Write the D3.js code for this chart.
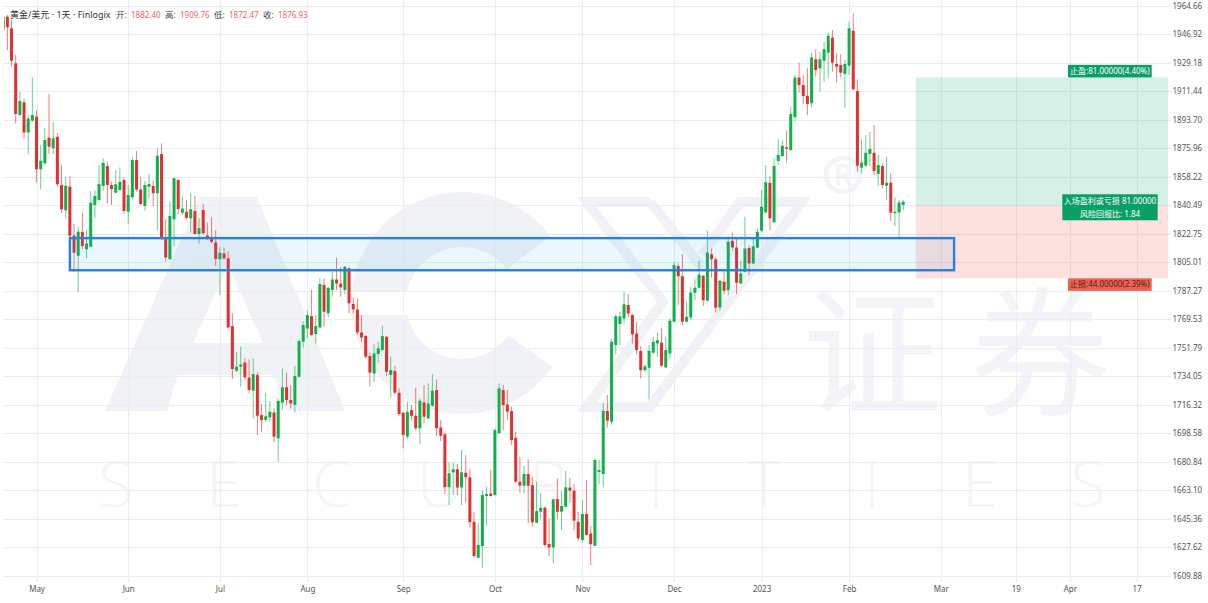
<!DOCTYPE html>
<html><head><meta charset="utf-8">
<script src="https://cdn.jsdelivr.net/npm/d3@7"></script>
<style>html,body{margin:0;padding:0;background:#fff}svg{display:block}text{font-family:"Noto Sans","Noto Sans CJK SC",sans-serif}</style>
</head><body><svg id="c" width="1208" height="603"></svg>
<script>
const opens=[1949.5,1957.8,1950.6,1928.8,1896.6,1904.5,1885.8,1893.1,1895.6,1862.8,
1866.5,1882.4,1875.9,1883.1,1853.0,1837.3,1852.0,1821.7,1809.0,1823.8,
1813.0,1814.7,1840.6,1843.7,1852.4,1864.9,1853.0,1848.3,1849.9,1856.2,
1836.4,1845.4,1868.6,1850.3,1840.0,1852.0,1852.4,1847.9,1872.3,1820.5,
1806.8,1831.7,1856.2,1835.8,1836.4,1832.3,1836.9,1822.5,1837.5,1821.7,
1819.4,1817.3,1806.8,1810.5,1807.4,1765.3,1737.5,1740.0,1742.6,1733.3,
1725.0,1734.8,1709.9,1706.8,1708.4,1711.5,1695.3,1717.5,1727.1,1719.2,
1716.1,1733.7,1755.5,1763.8,1771.5,1760.3,1764.4,1790.8,1773.2,1787.7,
1794.3,1791.8,1787.7,1801.2,1779.0,1775.6,1761.3,1759.0,1746.6,1735.8,
1747.8,1750.3,1758.6,1734.8,1737.3,1723.8,1711.3,1696.4,1713.0,1709.4,
1701.6,1717.7,1707.8,1715.7,1725.4,1702.2,1697.9,1664.9,1674.2,1676.1,
1664.7,1674.0,1671.1,1643.5,1621.1,1628.3,1659.5,1661.1,1660.1,1698.5,
1725.5,1716.5,1712.4,1695.8,1668.4,1665.9,1673.2,1666.3,1642.9,1649.7,
1652.2,1629.6,1627.5,1657.6,1649.7,1652.8,1664.7,1662.8,1643.5,1632.1,
1648.3,1636.2,1628.5,1674.4,1673.2,1712.4,1705.7,1753.4,1766.5,1770.0,
1778.3,1772.1,1760.6,1749.7,1737.8,1739.3,1748.6,1754.4,1755.0,1739.5,
1748.2,1767.9,1802.6,1796.3,1767.9,1770.6,1786.0,1789.1,1796.5,1781.0,
1810.0,1806.9,1776.8,1792.8,1787.6,1818.3,1814.2,1791.8,1799.0,1813.8,
1804.2,1814.0,1824.6,1836.0,1854.5,1829.8,1868.0,1871.1,1876.5,1874.8,
1895.2,1919.9,1915.3,1908.6,1903.9,1931.3,1925.7,1930.4,1935.4,1944.8,
1928.4,1927.7,1922.1,1927.3,1949.1,1911.6,1863.8,1865.1,1872.3,1873.2,
1859.9,1864.9,1852.6,1854.5,1835.8,1836.0,1840.6];
const highs=[1958.2,1958.9,1955.8,1934.0,1911.1,1907.0,1896.6,1920.1,1899.7,1877.9,
1888.3,1909.76,1892.5,1885.6,1865.5,1858.2,1858.8,1828.8,1827.1,1835.8,
1825.0,1849.3,1849.9,1865.5,1869.6,1867.6,1855.1,1862.4,1864.0,1857.6,
1853.0,1870.3,1874.2,1858.2,1855.7,1859.9,1855.7,1875.9,1879.0,1831.7,
1842.7,1857.6,1856.8,1846.2,1843.7,1847.9,1846.2,1832.3,1841.2,1829.6,
1832.9,1825.0,1814.2,1814.2,1811.9,1773.2,1749.3,1752.4,1745.1,1744.5,
1745.1,1736.4,1716.7,1723.8,1718.6,1714.0,1720.2,1738.9,1736.4,1728.5,
1740.4,1757.0,1768.0,1775.2,1787.7,1772.1,1794.9,1794.9,1789.7,1799.1,
1807.8,1802.2,1802.6,1801.8,1783.1,1782.5,1772.1,1759.7,1748.7,1753.9,
1755.5,1765.5,1759.0,1746.2,1740.4,1726.5,1711.9,1718.2,1716.1,1726.9,
1720.2,1728.5,1729.6,1735.4,1732.1,1706.8,1698.5,1680.4,1680.2,1679.4,
1688.1,1685.0,1676.1,1649.7,1642.5,1662.8,1665.3,1675.7,1701.6,1729.6,
1728.6,1725.5,1715.1,1699.5,1683.9,1678.1,1682.3,1671.5,1668.4,1661.1,
1653.2,1645.6,1658.0,1670.5,1662.8,1675.0,1670.9,1666.9,1649.7,1657.0,
1669.4,1640.8,1682.9,1682.3,1717.2,1722.3,1757.5,1772.7,1774.1,1786.6,
1785.1,1773.1,1767.9,1752.8,1741.6,1753.4,1758.6,1761.3,1763.8,1758.6,
1770.0,1805.3,1804.2,1810.0,1780.4,1789.7,1794.3,1805.9,1797.0,1824.6,
1813.6,1808.0,1794.3,1799.0,1821.2,1823.5,1819.8,1806.0,1833.3,1815.6,
1819.8,1826.0,1849.9,1865.5,1858.8,1869.6,1881.5,1881.0,1886.9,1901.8,
1921.5,1929.2,1921.5,1925.7,1935.4,1937.5,1936.0,1942.3,1948.1,1949.5,
1935.0,1934.4,1930.9,1954.7,1959.9,1918.8,1881.5,1884.2,1886.2,1890.4,
1872.1,1866.5,1870.7,1860.3,1845.4,1843.7,1843.7];
const lows=[1949.1,1937.1,1926.7,1891.4,1896.0,1881.5,1872.1,1892.5,1854.5,1850.3,
1866.1,1872.47,1872.3,1852.0,1835.8,1832.3,1820.5,1799.1,1786.6,1813.0,
1807.4,1814.2,1832.3,1843.3,1849.5,1841.6,1840.6,1847.9,1849.5,1835.4,
1828.6,1844.3,1848.9,1840.6,1837.1,1844.7,1840.0,1825.0,1818.8,1805.3,
1806.4,1815.1,1835.0,1834.4,1831.7,1823.4,1822.2,1816.7,1821.9,1818.8,
1816.7,1802.8,1784.6,1806.4,1763.8,1732.3,1736.8,1727.5,1731.7,1723.4,
1707.4,1697.4,1699.1,1705.7,1705.7,1692.9,1680.8,1713.0,1716.1,1714.0,
1711.5,1733.3,1752.0,1757.6,1759.0,1754.5,1763.8,1764.8,1770.7,1783.5,
1787.7,1783.5,1785.0,1773.2,1772.7,1759.7,1755.5,1745.1,1727.5,1730.6,
1742.4,1749.9,1734.1,1720.7,1722.3,1709.2,1689.1,1694.9,1706.8,1700.5,
1691.8,1704.7,1707.6,1715.0,1697.0,1693.7,1660.7,1653.9,1660.1,1660.1,
1653.9,1655.5,1640.0,1621.3,1620.7,1614.8,1641.4,1659.1,1659.5,1698.1,
1700.6,1706.8,1691.2,1667.4,1661.5,1661.1,1642.5,1640.4,1642.5,1645.6,
1627.9,1622.1,1617.6,1644.9,1638.3,1652.8,1655.3,1637.9,1631.7,1630.4,
1634.8,1616.5,1628.3,1666.9,1664.9,1702.2,1703.7,1747.6,1753.4,1766.9,
1770.6,1754.4,1747.8,1732.6,1736.8,1719.6,1748.2,1746.1,1739.9,1739.3,
1745.1,1767.7,1778.3,1765.8,1767.5,1768.9,1781.4,1788.7,1777.7,1780.8,
1795.5,1773.7,1774.8,1785.1,1784.5,1812.1,1785.1,1791.4,1798.6,1797.0,
1803.8,1813.6,1823.6,1835.4,1825.0,1829.2,1865.5,1870.7,1867.1,1874.4,
1892.5,1910.5,1903.5,1896.6,1901.4,1920.5,1911.1,1917.4,1919.4,1923.6,
1917.0,1920.1,1900.8,1921.5,1911.8,1861.3,1860.3,1864.5,1864.9,1859.3,
1852.6,1851.0,1843.7,1830.8,1827.5,1819.2,1837.5];
const closes=[1957.8,1951.2,1930.4,1897.2,1905.3,1885.8,1894.5,1896.6,1862.8,1868.2,
1881.0,1876.93,1882.1,1853.5,1837.9,1852.6,1821.5,1810.9,1824.0,1815.1,
1816.7,1842.0,1846.2,1853.7,1866.9,1853.0,1850.5,1853.5,1855.1,1836.9,
1846.8,1868.6,1850.3,1841.2,1853.0,1853.7,1847.9,1871.3,1819.8,1808.0,
1833.7,1857.2,1838.1,1838.5,1832.7,1837.9,1822.5,1826.1,1823.0,1819.6,
1817.8,1807.0,1810.9,1807.4,1764.4,1738.5,1740.0,1741.4,1733.3,1725.4,
1735.4,1709.4,1706.8,1709.2,1711.9,1696.4,1718.6,1727.1,1719.2,1717.1,
1734.1,1755.9,1765.9,1772.1,1759.7,1765.3,1791.4,1774.2,1789.1,1794.3,
1791.8,1789.3,1802.2,1779.4,1775.6,1761.3,1758.2,1746.2,1736.2,1748.2,
1751.4,1759.0,1736.8,1737.9,1723.8,1710.5,1697.4,1711.9,1709.4,1701.6,
1718.8,1708.8,1717.1,1725.0,1701.6,1697.0,1664.9,1673.6,1676.1,1664.7,
1674.2,1671.1,1643.1,1622.1,1629.0,1660.1,1660.7,1659.5,1700.6,1726.5,
1716.1,1712.0,1694.3,1668.4,1665.9,1673.2,1665.9,1643.1,1650.1,1652.2,
1629.0,1627.5,1657.4,1649.7,1653.2,1664.9,1662.8,1644.1,1633.1,1648.3,
1635.2,1629.4,1681.9,1675.7,1712.6,1706.4,1755.5,1771.4,1771.4,1778.9,
1773.1,1760.2,1750.3,1737.8,1740.3,1749.9,1755.5,1756.5,1740.5,1750.3,
1768.5,1803.2,1796.3,1767.9,1771.0,1786.2,1789.1,1797.4,1781.4,1811.1,
1806.9,1776.6,1793.4,1787.2,1817.7,1814.2,1792.2,1798.0,1813.6,1804.2,
1815.0,1823.9,1839.6,1854.7,1832.3,1864.9,1871.7,1877.5,1875.7,1897.2,
1919.9,1915.3,1908.4,1903.5,1932.5,1924.6,1931.3,1937.5,1946.0,1929.2,
1926.7,1923.0,1928.4,1950.6,1912.6,1865.1,1867.1,1873.2,1875.4,1861.8,
1865.5,1853.0,1854.5,1835.8,1836.4,1842.2,1842.6];
const priceTicks=[1964.66,1946.92,1929.18,1911.44,1893.70,1875.96,1858.22,1840.49,1822.75,1805.01,1787.27,1769.53,1751.79,1734.05,1716.32,1698.58,1680.84,1663.10,1645.36,1627.62,1609.88];
const timeTickIndex=[8,30,52,73,96,118,139,161,182,203,225,243,256,272];
const timeTickLabels=["May","Jun","Jul","Aug","Sep","Oct","Nov","Dec","2023","Feb","Mar","19","Apr","17"];
const zoneBox={from:16,to:228.2,top:1820,bottom:1800};
const position={from:219,entry:1840,target:1920,stop:1795};
const header=["黄金/美元 · 1天 · Finlogix"];
const ohlcNames=["开:","高:","低:","收:"];
const ohlcValues=["1882.40","1909.76","1872.47","1876.93"];
const watermarkLetters=["S","E","C","U","R","I","T","I","E","S"];

const svg=d3.select("#c");
const W=1168,B=580,L=4;
const x=d3.scaleLinear().domain([0,272]).range([3.2,1136.6]);
const y=d3.scaleLinear().domain([1964.66,1609.88]).range([5.7,575.7]);

/* watermark */
const mk=svg.append("g").attr("fill","#f0f2f6");
mk.append("path").attr("fill-rule","evenodd").attr("d",
 "M105,411L200,197L257,197L345,411L287,411L273,375L178,375L167,411Z M228,265L193,343L263,343Z");
mk.append("path").attr("transform","translate(462,303)").attr("d",
 d3.arc()({innerRadius:56,outerRadius:111,startAngle:2.183,endAngle:7.208}));
svg.append("rect").attr("x",345).attr("y",292).attr("width",67).attr("height",23).attr("fill","#fff");
mk.append("path").attr("fill","none").attr("stroke","#f1f2f6").attr("stroke-width",10)
 .attr("d","M650,202L587,202L663,302L587,407L650,407L802,202L740,202L702,255M650,202L703,268");
const wmText="#f3f4f7";
const wmCn=svg.append("g").attr("fill",wmText).style("font-size","140px");
wmCn.append("text").attr("x",872).attr("y",405).attr("text-anchor","middle").style("font-family","'Noto Sans CJK SC'").text("证");
wmCn.append("text").attr("x",1040).attr("y",405).attr("text-anchor","middle").style("font-family","'Noto Sans CJK SC'").text("券");
const wmX=d3.scaleLinear().domain([0,9]).range([116,1088]);
svg.append("g").selectAll("text").data(watermarkLetters).join("text")
 .attr("x",(d,i)=>wmX(i)).attr("y",507).attr("text-anchor","middle").attr("fill","#f4f5f7")
 .style("font-family","'Open Sans'").style("font-weight",300).style("font-size","64px").text(d=>d);
svg.append("circle").attr("cx",843).attr("cy",175).attr("r",17).attr("fill","none").attr("stroke",wmText).attr("stroke-width",5);
svg.append("text").attr("x",843).attr("y",186).attr("text-anchor","middle").attr("fill",wmText)
 .style("font-size","30px").style("font-family","'Open Sans'").style("font-weight",600).text("R");

/* grid */
const grid=svg.append("g").attr("stroke","#ebedf0").attr("stroke-width",1);
grid.selectAll(".h").data(priceTicks).join("line").attr("x1",L).attr("x2",W)
 .attr("y1",d=>Math.round(y(d))+.5).attr("y2",d=>Math.round(y(d))+.5);
grid.selectAll(".v").data(timeTickIndex).join("line").attr("y1",0).attr("y2",B)
 .attr("x1",d=>Math.round(x(d))+.5).attr("x2",d=>Math.round(x(d))+.5);

/* position tool */
const pos=svg.append("g");
pos.append("rect").attr("x",x(position.from)).attr("width",W-x(position.from))
 .attr("y",y(position.target)).attr("height",y(position.entry)-y(position.target)).attr("fill","#0aa86e").attr("fill-opacity",.17);
pos.append("rect").attr("x",x(position.from)).attr("width",W-x(position.from))
 .attr("y",y(position.entry)).attr("height",y(position.stop)-y(position.entry)).attr("fill","#f4503f").attr("fill-opacity",.17);

/* candles */
const idx=d3.range(opens.length);
svg.append("clipPath").attr("id","pl").append("rect").attr("x",L).attr("y",0).attr("width",W-L).attr("height",B);
const cg=svg.append("g").attr("clip-path","url(#pl)");
const col=i=>closes[i]>=opens[i]?"#10b04b":"#e0302f";
cg.selectAll(".w").data(idx).join("line")
 .attr("x1",i=>x(i)).attr("x2",i=>x(i)).attr("y1",i=>y(highs[i])).attr("y2",i=>y(lows[i]))
 .attr("stroke",col).attr("stroke-width",1).attr("stroke-opacity",.62);
cg.selectAll(".b").data(idx).join("rect")
 .attr("x",i=>x(i)-1.5).attr("width",3)
 .attr("y",i=>y(Math.max(opens[i],closes[i])))
 .attr("height",i=>Math.max(1.5,Math.abs(y(opens[i])-y(closes[i]))))
 .attr("fill",col).attr("rx",.4);

/* zone */
svg.append("rect").attr("x",x(zoneBox.from)).attr("width",x(zoneBox.to)-x(zoneBox.from))
 .attr("y",y(zoneBox.top)).attr("height",y(zoneBox.bottom)-y(zoneBox.top))
 .attr("fill","#2196f3").attr("fill-opacity",.09).attr("stroke","#2483da").attr("stroke-width",2.4);

/* position labels */
function lab(x0,y0,w,h,fill,lines,tc){
 svg.append("rect").attr("x",x0).attr("y",y0).attr("width",w).attr("height",h).attr("fill",fill);
 lines.forEach((t,i)=>svg.append("text").attr("x",x0+w/2).attr("y",y0+h/2+(i-(lines.length-1)/2)*13+2.9)
  .attr("text-anchor","middle").attr("fill",tc).style("font-size","8px").text(t));
}
lab(1068,y(position.target)-12.6,83.7,12.6,"#0a9f66",["止盈:81.00000(4.40%)"],"#fff");
lab(1068,y(position.stop),83.7,12.6,"#ee6152",["止损:44.00000(2.39%)"],"#5c1f1a");
lab(1062.3,y(position.entry)-11.7,95.4,26,"#0a9f66",["入场盈利或亏损 81.00000","风险回报比: 1.84"],"#fff");

/* axes */
const ya=svg.append("g").attr("transform",`translate(${W},0)`)
 .call(d3.axisRight(y).tickValues(priceTicks).tickFormat(d=>d.toFixed(2)).tickSize(3).tickPadding(1.5));
ya.select(".domain").remove();
ya.selectAll("line").attr("stroke","#dfe1e5");
ya.selectAll("text").attr("fill","#555").style("font-size","8px");
const xa=svg.append("g").attr("transform",`translate(0,${B})`)
 .call(d3.axisBottom(x).tickValues(timeTickIndex).tickFormat((d,i)=>timeTickLabels[i]).tickSize(2).tickPadding(4));
xa.select(".domain").remove();
xa.selectAll("line").attr("stroke","#dfe1e5");
xa.selectAll("text").attr("fill","#555").style("font-size","8px");

/* header */
svg.append("text").attr("x",10).attr("y",18).attr("fill","#333").style("font-size","9px").text(header[0]);
const hx=[116,165,214,263];
ohlcNames.forEach((n,i)=>{
 svg.append("text").attr("x",hx[i]).attr("y",18).attr("fill","#444").style("font-size","8.5px").text(n);
 svg.append("text").attr("x",hx[i]+15).attr("y",18).attr("fill","#ef5f5f").style("font-size","8px").text(ohlcValues[i]);
});
</script></body></html>
